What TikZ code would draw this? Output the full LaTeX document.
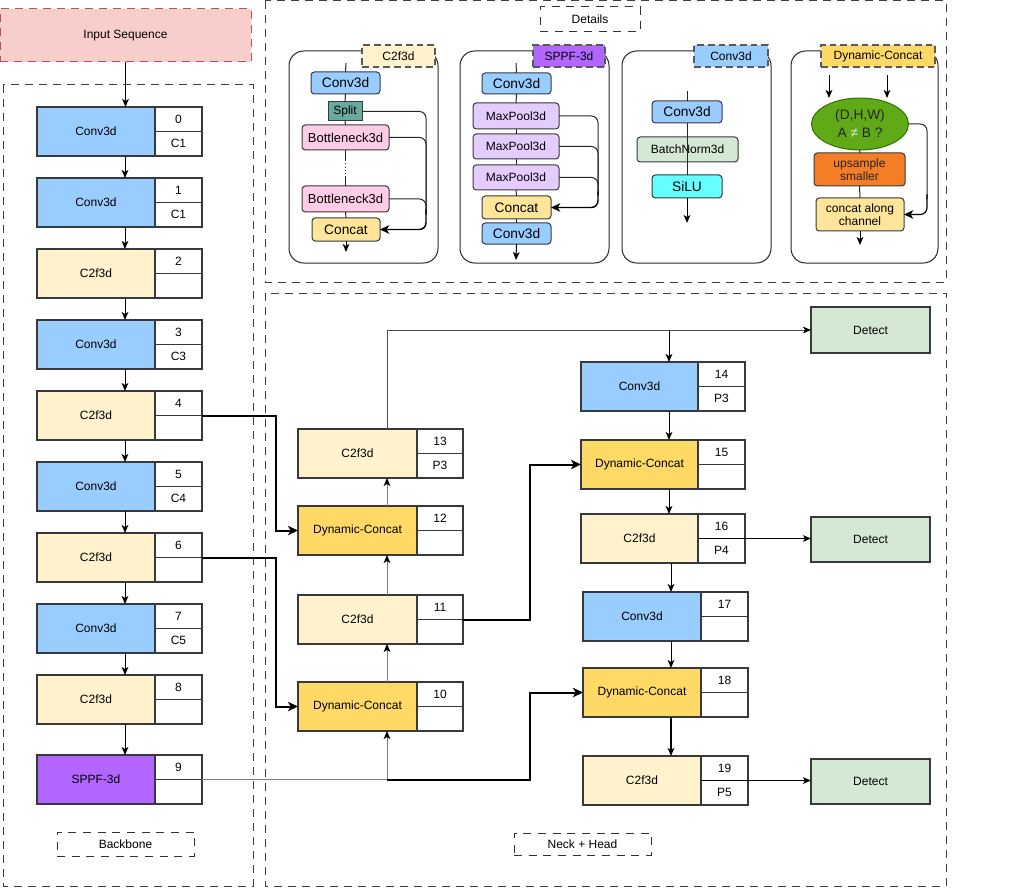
\documentclass[tikz,border=0pt]{standalone}
\usepackage{fontspec}
\setmainfont{Liberation Sans}
\usetikzlibrary{arrows.meta,shapes.geometric,calc}
\definecolor{convC}{HTML}{99CCFF}
\definecolor{cfC}{HTML}{FFF2CC}
\definecolor{sppfC}{HTML}{B266FF}
\definecolor{dynC}{HTML}{FFD966}
\definecolor{detC}{HTML}{D5E8D4}
\definecolor{inpC}{HTML}{F8CECC}
\definecolor{inpD}{HTML}{B85450}
\definecolor{splitC}{HTML}{67AB9F}
\definecolor{botC}{HTML}{FFCCE6}
\definecolor{catC}{HTML}{FFE599}
\definecolor{mpC}{HTML}{E5CCFF}
\definecolor{bnC}{HTML}{D5E8D4}
\definecolor{siluC}{HTML}{66FFFF}
\definecolor{ellC}{HTML}{60A917}
\definecolor{ellD}{HTML}{2D7600}
\definecolor{upC}{HTML}{F47D25}
\definecolor{edgeC}{HTML}{36393D}
\definecolor{grayL}{HTML}{7F7F7F}
\newcommand\fA{\fontsize{9}{10}\selectfont}
\newcommand\fB{\fontsize{9.75}{11.5}\selectfont}
\newcommand\fC{\fontsize{10.3}{13.5}\selectfont}
\newcommand\Bx[7]{\node[#6, anchor=north west, minimum width={(#4-#2)*0.75pt}, minimum height={(#5-#3)*0.75pt}] (#1) at (#2,#3) {#7};}
\newcommand\Blk[9]{%
  \node[blkmain, fill=#6, minimum width={#4*0.75pt}, anchor=north west] (#1) at (#2,#3) {#7};
  \node[blkside, minimum width={#5*0.75pt}, anchor=north west] (#1n) at (#1.north east) {#8};
  \node[blkside, minimum width={#5*0.75pt}, anchor=north west] (#1l) at (#1n.south west) {#9};}
\begin{document}
\begin{tikzpicture}[x=0.75pt,y=-0.75pt,
  blkmain/.style={draw=edgeC, line width=0.8pt, minimum height={49*0.75pt}, inner sep=0pt, outer sep=0pt, font=\fA},
  blkside/.style={draw=edgeC, line width=0.8pt, fill=white, minimum height={24.5*0.75pt}, inner sep=0pt, outer sep=0pt, font=\fA},
  det/.style={draw=edgeC, line width=0.8pt, fill=detC, inner sep=0pt, outer sep=0pt, font=\fA},
  bx/.style={draw=edgeC, line width=0.75pt, rounded corners=2.5pt, inner sep=0pt, outer sep=0pt, align=center, font=\fA},
  cont/.style={draw=black!75, line width=0.75pt, dash pattern=on 6pt off 4.5pt},
  lbl/.style={draw=black!80, line width=0.75pt, dash pattern=on 6pt off 5pt, inner sep=0pt, outer sep=0pt, font=\fA},
  tag/.style={draw=black!65, line width=0.9pt, dash pattern=on 5pt off 3pt, inner sep=0pt, outer sep=0pt, font=\fA},
  panel/.style={draw=black!85, line width=0.75pt, rounded corners=11pt},
  ln/.style={line width=0.75pt, draw=black!85},
  arr/.style={-{Stealth[length=6pt,width=5pt,inset=1.5pt]}, line width=0.75pt},
  garr/.style={-{Stealth[length=6pt,width=5pt,inset=1.5pt,color=black]}, line width=0.75pt, draw=grayL},
  tarr/.style={-{Stealth[length=7.5pt,width=7pt,inset=2pt]}, line width=1.5pt},
  marr/.style={-{Stealth[length=7pt,width=6.5pt,inset=2pt]}, line width=1.1pt}]
\useasboundingbox (0,0) rectangle (1014,888);

% containers
\draw[cont] (3,85) rectangle (253,886);
\draw[cont] (265,1) rectangle (946,282);
\draw[cont] (265,293) rectangle (946,886);
\Bx{lblD}{540}{7}{640}{32}{lbl}{Details}
\Bx{lblB}{57}{832}{194}{856}{lbl}{Backbone}
\Bx{lblN}{514}{833}{651}{855}{lbl}{Neck + Head}

% input
\Bx{inp}{0}{9}{251}{62}{draw=inpD, fill=inpC, line width=0.75pt, dash pattern=on 6pt off 4.5pt, inner sep=0pt, outer sep=0pt, font=\fA}{Input Sequence}

% backbone
\Blk{b0}{37}{107}{118}{47}{convC}{Conv3d}{0}{C1}
\Blk{b1}{37}{178}{118}{47}{convC}{Conv3d}{1}{C1}
\Blk{b2}{37}{249}{118}{47}{cfC}{C2f3d}{2}{}
\Blk{b3}{37}{320}{118}{47}{convC}{Conv3d}{3}{C3}
\Blk{b4}{37}{391}{118}{47}{cfC}{C2f3d}{4}{}
\Blk{b5}{37}{462}{118}{47}{convC}{Conv3d}{5}{C4}
\Blk{b6}{37}{533}{118}{47}{cfC}{C2f3d}{6}{}
\Blk{b7}{37}{604}{118}{47}{convC}{Conv3d}{7}{C5}
\Blk{b8}{37}{675}{118}{47}{cfC}{C2f3d}{8}{}
\Blk{b9}{37}{755}{118}{47}{sppfC}{SPPF-3d}{9}{}

% neck + head
\Blk{n13}{298}{429}{119}{46}{cfC}{C2f3d}{13}{P3}
\Blk{n12}{298}{506}{119}{46}{dynC}{Dynamic-Concat}{12}{}
\Blk{n11}{298}{595}{119}{46}{cfC}{C2f3d}{11}{}
\Blk{n10}{298}{682}{119}{46}{dynC}{Dynamic-Concat}{10}{}
\Blk{n14}{581}{362}{117}{47}{convC}{Conv3d}{14}{P3}
\Blk{n15}{581}{440}{117}{47}{dynC}{Dynamic-Concat}{15}{}
\Blk{n16}{581}{514}{117}{47}{cfC}{C2f3d}{16}{P4}
\Blk{n17}{583}{592}{118}{47}{convC}{Conv3d}{17}{}
\Blk{n18}{583}{668}{118}{47}{dynC}{Dynamic-Concat}{18}{}
\Blk{n19}{583}{756}{118}{47}{cfC}{C2f3d}{19}{P5}
\Bx{d1}{811}{307}{930}{353}{det}{Detect}
\Bx{d2}{811}{517}{930}{562}{det}{Detect}
\Bx{d3}{811}{759}{930}{804}{det}{Detect}

\coordinate (bx) at (125,0);
\coordinate (cx) at (387,0);
\coordinate (jx) at (530,0);
\coordinate (rx) at (669,0);
\coordinate (sx) at (671,0);

% backbone connectors
\draw[arr] (inp.south) -- (b0.north -| inp.south);
\foreach \a/\b in {b0/b1,b1/b2,b2/b3,b3/b4,b4/b5,b5/b6,b6/b7,b7/b8,b8/b9}
  \draw[arr] (\a.south -| bx) -- (\b.north -| bx);

% neck connectors
\draw[tarr] (b4n.south east) -- ++(74,0) |- (n12.west);
\draw[tarr] (b6n.south east) -- ++(74,0) |- (n10.west);
\draw[garr] (b9n.south east) -| (n10.south -| cx);
\draw[tarr] (b9n.south east -| cx) -- (b9n.south east -| jx) |- (n18.west);
\draw[garr] (n10.north -| cx) -- (n11.south -| cx);
\draw[garr] (n11.north -| cx) -- (n12.south -| cx);
\draw[garr] (n12.north -| cx) -- (n13.south -| cx);
\draw[garr, draw=black!70] (n13.north -| cx) |- (d1.west);
\draw[arr] (d1.west -| rx) -- (n14.north -| rx);
\draw[tarr] (n11n.south east) -- (n11n.south east -| jx) |- (n15.west);
\draw[arr] (n14.south -| rx) -- (n15.north -| rx);
\draw[arr] (n15.south -| rx) -- (n16.north -| rx);
\draw[arr] (n16.east) -- (n16.east -| d2.west);
\draw[arr] (n16.south -| sx) -- (n17.north -| sx);
\draw[arr] (n17.south -| sx) -- (n18.north -| sx);
\draw[arr, line width=1pt] (n18.south -| sx) -- (n19.north -| sx);
\draw[arr] (n19.east) -- (n19.east -| d3.west);

% ---- details panel 1: C2f3d
\draw[panel] (289,51) rectangle (438,263);
\Bx{t1}{362}{45}{435}{67}{tag, fill=cfC}{C2f3d}
\coordinate (p1in) at (346,63);
\coordinate (p1out) at (346,252);
\coordinate (p1r) at (426,0);
\Bx{p1conv}{311}{72}{380}{94}{bx, fill=convC, font=\fC}{Conv3d}
\Bx{p1split}{328}{102}{362}{121}{bx, rounded corners=0pt, fill=splitC}{Split}
\Bx{p1b1}{302}{125}{389}{150}{bx, fill=botC, font=\fB}{Bottleneck3d}
\Bx{p1b2}{302}{186}{389}{212}{bx, fill=botC, font=\fB}{Bottleneck3d}
\Bx{p1cat}{312}{218}{380}{241}{bx, fill=catC, font=\fC}{Concat}
\draw[ln] (p1in) -- (p1conv.north);
\draw[ln] (p1conv.south) -- (p1split.north);
\draw[ln] (p1split.south) -- (p1b1.north);
\draw[ln] (p1b1.south) -- ++(0,10);
\draw[ln, line width=0.5pt, dotted] ($(p1b1.south)+(0,10)$) -- ($(p1b2.north)+(0,-10)$);
\draw[ln] (p1b2.north) -- ++(0,-10);
\draw[ln] (p1b2.south) -- (p1cat.north);
\draw[arr] (p1cat.south) -- (p1out);
\draw[ln, rounded corners=5pt] (p1split.east) -| ($(p1r |- p1cat.east)+(0,-15)$);
\draw[ln, rounded corners=5pt] (p1b1.east) -| ($(p1r |- p1cat.east)+(0,-15)$);
\draw[ln, rounded corners=5pt] (p1b2.east) -| ($(p1r |- p1cat.east)+(0,-15)$);
\draw[marr, rounded corners=5pt] ($(p1r |- p1cat.east)+(0,-20)$) |- (p1cat.east);

% ---- details panel 2: SPPF-3d
\draw[panel] (460,51) rectangle (609,263);
\Bx{t2}{533}{45}{605}{67}{tag, fill=sppfC}{SPPF-3d}
\coordinate (p2in) at (516,63);
\coordinate (p2out) at (516,260);
\coordinate (p2r) at (598,0);
\Bx{p2c1}{482}{73}{551}{94}{bx, fill=convC, font=\fC}{Conv3d}
\Bx{p2m1}{473}{103}{559}{129}{bx, fill=mpC}{MaxPool3d}
\Bx{p2m2}{473}{134}{559}{159}{bx, fill=mpC}{MaxPool3d}
\Bx{p2m3}{473}{165}{559}{190}{bx, fill=mpC}{MaxPool3d}
\Bx{p2cat}{482}{196}{551}{219}{bx, fill=catC, font=\fC}{Concat}
\Bx{p2c2}{482}{223}{551}{244}{bx, fill=convC, font=\fC}{Conv3d}
\draw[ln] (p2in) -- (p2c1.north);
\draw[ln] (p2c1.south) -- (p2m1.north);
\draw[ln] (p2m1.south) -- (p2m2.north);
\draw[ln] (p2m2.south) -- (p2m3.north);
\draw[ln] (p2m3.south) -- (p2cat.north);
\draw[ln] (p2cat.south) -- (p2c2.north);
\draw[arr] (p2c2.south) -- (p2out);
\draw[ln, rounded corners=5pt] (p2m1.east) -| ($(p2r |- p2cat.east)+(0,-12)$);
\draw[ln, rounded corners=5pt] (p2m2.east) -| ($(p2r |- p2cat.east)+(0,-12)$);
\draw[ln, rounded corners=5pt] (p2m3.east) -| ($(p2r |- p2cat.east)+(0,-12)$);
\draw[marr, rounded corners=5pt] ($(p2r |- p2cat.east)+(0,-16)$) |- (p2cat.east);

% ---- details panel 3: Conv3d
\draw[panel] (622,51) rectangle (771,263);
\Bx{t3}{694}{45}{768}{67}{tag, fill=convC}{Conv3d}
\coordinate (p3in) at (687,91);
\coordinate (p3out) at (687,223);
\Bx{p3c}{652}{101}{722}{123}{bx, fill=convC, font=\fC}{Conv3d}
\Bx{p3bn}{637}{137}{738}{162}{bx, fill=bnC}{BatchNorm3d}
\Bx{p3s}{652}{175}{722}{198}{bx, fill=siluC, font=\fC}{SiLU}
\draw[ln] (p3in) -- (p3c.north);
\draw[ln] (p3c.south) -- (p3s.north);
\draw[arr] (p3s.south) -- (p3out);

% ---- details panel 4: Dynamic-Concat
\draw[panel] (791,51) rectangle (938,263);
\Bx{t4}{821}{45}{935}{67}{tag, fill=dynC}{Dynamic-Concat}
\coordinate (p4a) at (829,75);
\coordinate (p4b) at (887,75);
\coordinate (p4out) at (860,245);
\coordinate (p4r) at (927,0);
\node[ellipse, draw=ellD, fill=ellC, line width=0.75pt, minimum width={97*0.75pt}, minimum height={52*0.75pt}, inner sep=0pt, outer sep=0pt, align=center, font=\fC, text=black!85] (p4e) at (860,124) {(D,H,W)\\A \textcolor{white!80!gray}{≠} B ?};
\Bx{p4up}{814}{153}{905}{186}{bx, fill=upC, text=black!85}{upsample\\smaller}
\Bx{p4cat}{816}{198}{904}{231}{bx, fill=catC}{concat along\\channel}
\draw[arr] (p4a) -- (p4a |- p4e.north);
\draw[arr] (p4b) -- (p4b |- p4e.north);
\draw[ln] (p4e.south) -- (p4up.north);
\draw[ln] (p4up.south) -- (p4cat.north);
\draw[arr] (p4cat.south) -- (p4out);
\draw[ln, rounded corners=5pt] (p4e.east) -| ($(p4r |- p4cat.east)+(0,-15)$);
\draw[marr, line width=0.9pt, rounded corners=5pt] ($(p4r |- p4cat.east)+(0,-20)$) |- (p4cat.east);
\end{tikzpicture}
\end{document}
